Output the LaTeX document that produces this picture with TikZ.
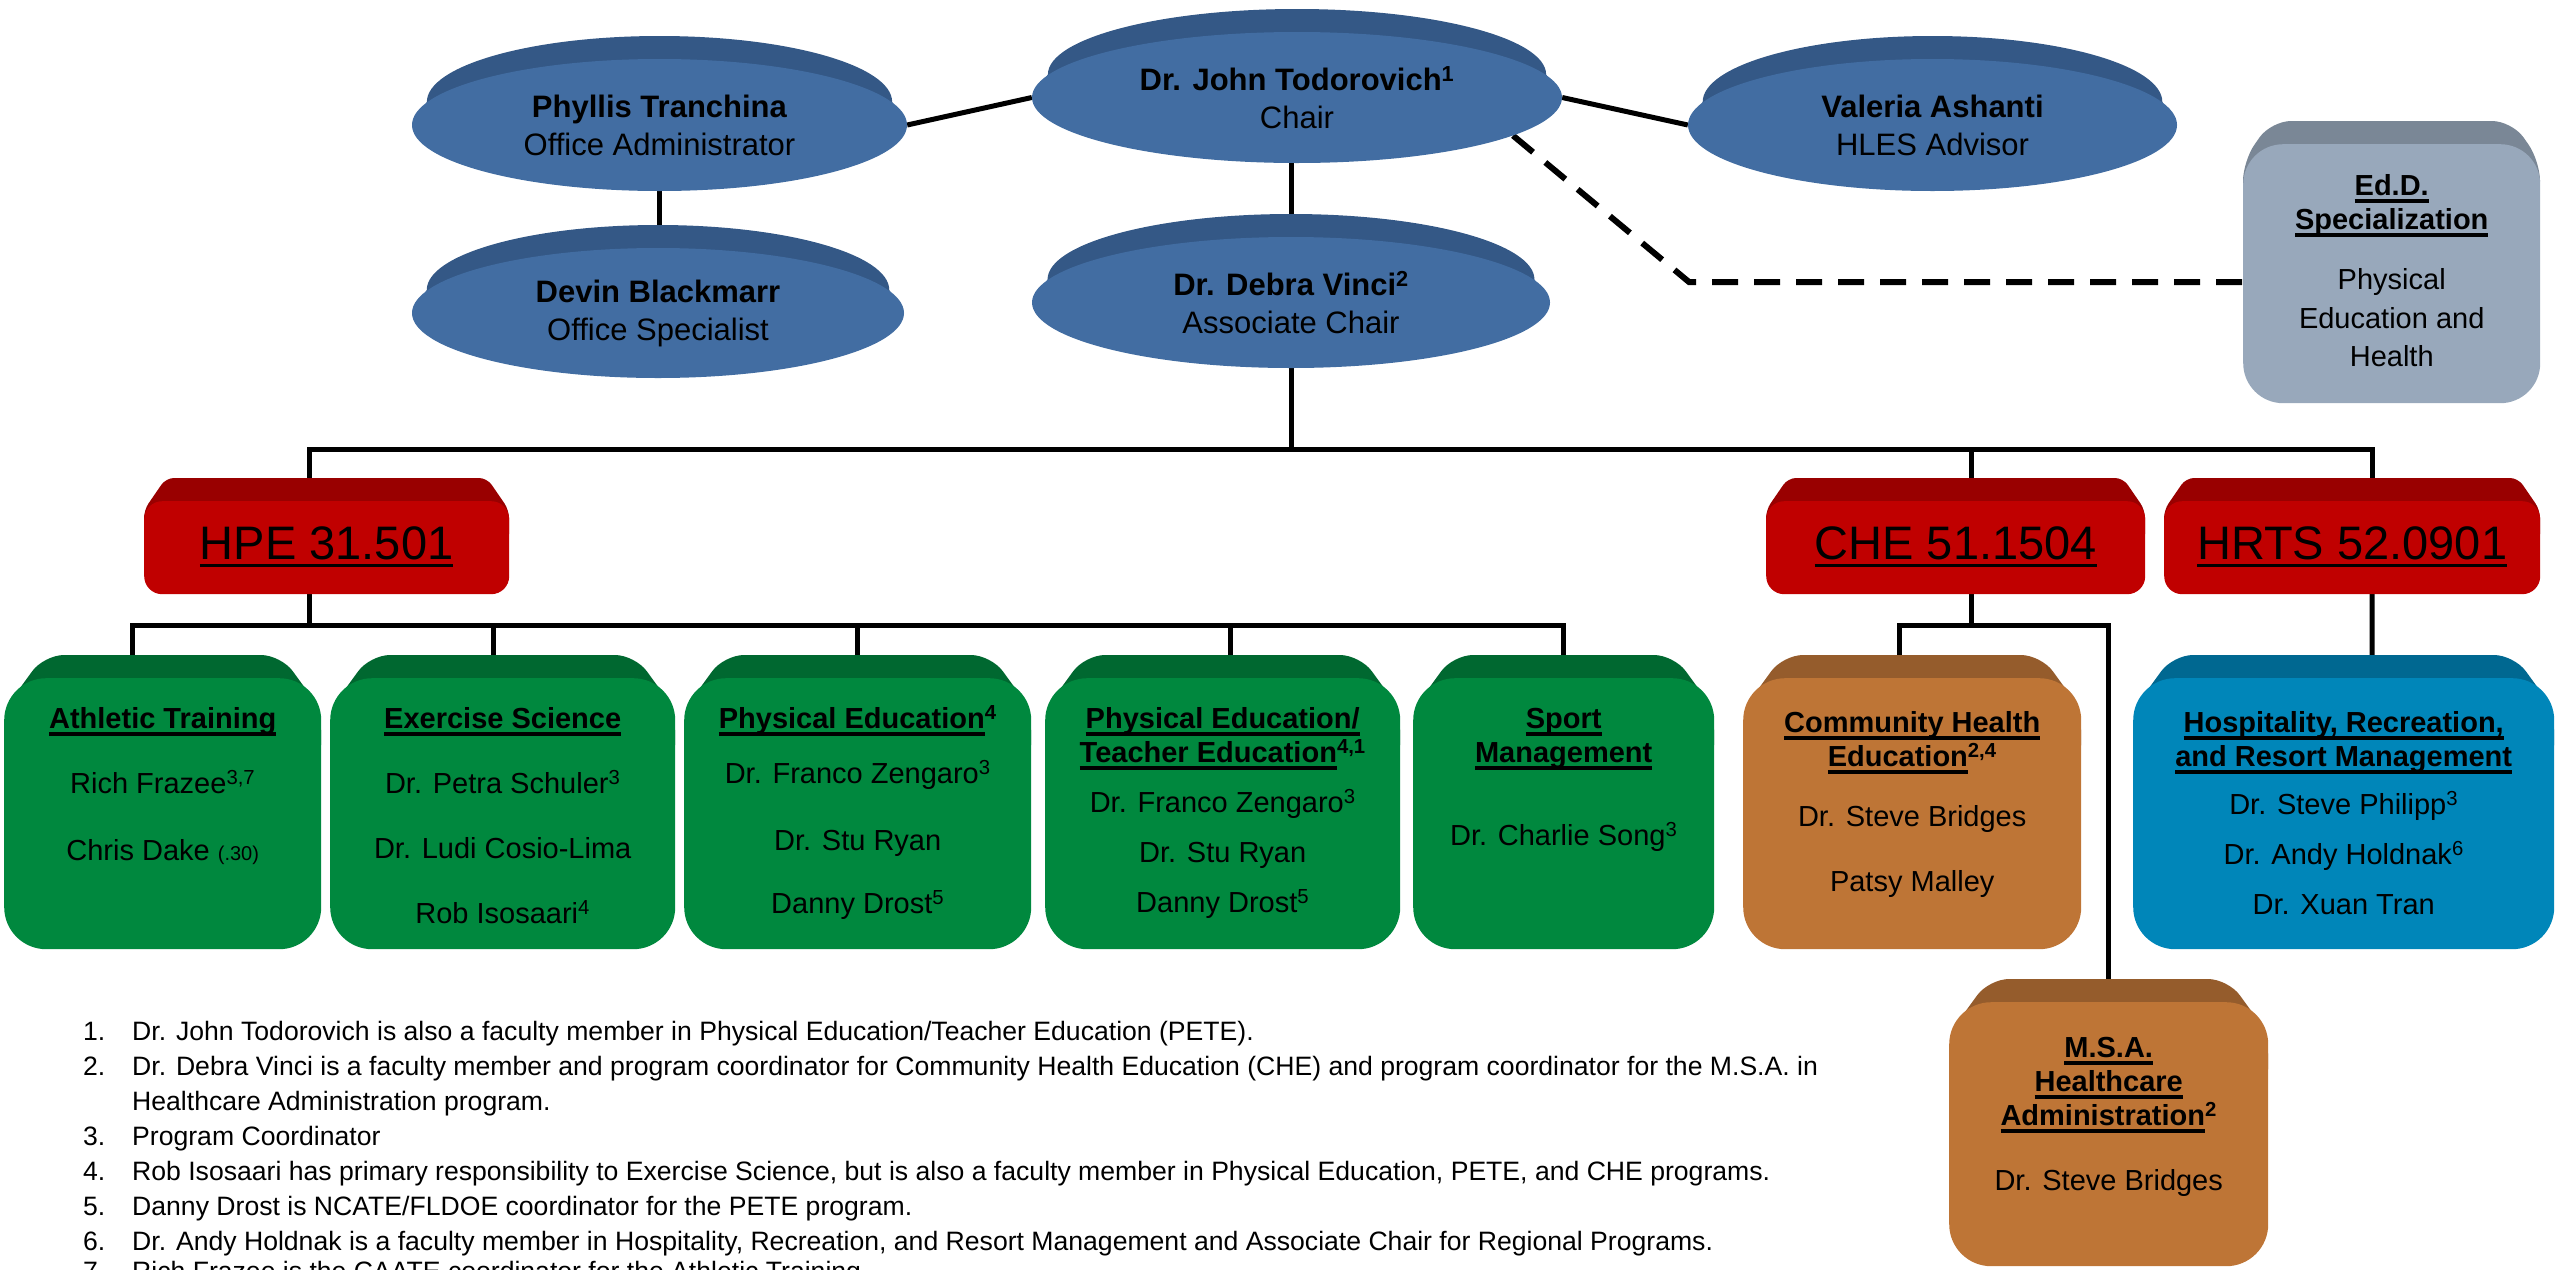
\documentclass[tikz,border=0pt]{standalone}
\usepackage{fontspec}
\setmainfont{Liberation Sans}
\usetikzlibrary{shapes.geometric,backgrounds}

\definecolor{discface}{RGB}{66,109,162}
\definecolor{disclid}{RGB}{52,88,134}
\definecolor{redface}{RGB}{192,0,0}
\definecolor{redlid}{RGB}{153,0,0}
\definecolor{grnface}{RGB}{0,136,62}
\definecolor{grnlid}{RGB}{0,104,48}
\definecolor{brnface}{RGB}{190,117,54}
\definecolor{brnlid}{RGB}{149,92,44}
\definecolor{bluface}{RGB}{0,134,185}
\definecolor{blulid}{RGB}{0,104,145}
\definecolor{gryface}{RGB}{152,168,187}
\definecolor{grylid}{RGB}{122,135,150}

\newsavebox{\ulbox}
\newcommand{\uln}[1]{\sbox{\ulbox}{#1}\rlap{\rule[-7.5pt]{\wd\ulbox}{3.5pt}}\usebox{\ulbox}}
\newcommand{\discfont}{\fontsize{31}{38}\selectfont}
\newcommand{\boxfont}{\fontsize{29}{34}\selectfont}
\newcommand{\codefont}{\fontsize{47}{56}\selectfont}
\newcommand{\notefont}{\fontsize{26.6}{35}\selectfont}
\newcommand{\ttl}[1]{\textbf{\uln{#1}}}
\newcommand{\topstrut}{\rule{0pt}{28pt}}

\tikzset{
	link/.style={line width=5pt},
	dlink/.style={line width=6pt, dash pattern=on 26pt off 16pt},
	disc/.style={ellipse, fill=discface, inner sep=0pt, align=center, font=\discfont},
	face/.style={rectangle, rounded corners=42pt, inner sep=0pt},
	boxtext/.style={anchor=north, align=center, inner sep=0pt, font=\boxfont},
	codetext/.style={anchor=base, inner sep=0pt, font=\codefont},
	notes/.style={anchor=base west, inner sep=0pt, font=\notefont}
}

% disc: name, cx, cy, rx, ry, text
\newcommand{\discnode}[6]{%
	\fill[disclid] ({#2-#4},-#3) -- ({#2-0.94*#4},{-#3+23})
	arc[start angle=180, end angle=0, x radius={0.94*#4}, y radius=#5] -- ({#2+#4},-#3) -- cycle;
	\node[disc, minimum width={2*#4}, minimum height={2*#5}] (#1) at (#2,-#3) {#6};
}

% box: [face opts] name, x0, x1, top, bottom, lid colour, face colour
\newcommand{\progbox}[8][]{%
	\fill[#7, rounded corners=\lidr] (#3,{-#5-2*\lidd}) -- (#3,{-#5-\lidd})
	-- ({#3+\lidin},-#5) -- ({#4-\lidin},-#5) -- (#4,{-#5-\lidd}) -- (#4,{-#5-2*\lidd}) -- cycle;
	\node[face, fill=#8, minimum width={#4-#3}, minimum height={#6-#5-23}, anchor=north west, #1] (#2) at (#3,{-#5-23}) {};
}

\begin{document}
\begin{tikzpicture}[x=1pt,y=1pt]

\useasboundingbox (0,0) rectangle (2564,-1269);

% office
\discnode{phyllis}{659.5}{125}{247.5}{66}{\textbf{Phyllis Tranchina}\\Office Administrator}
\discnode{devin}{658}{313}{246}{65}{\textbf{Devin Blackmarr}\\Office Specialist}
\discnode{chair}{1297}{97.5}{265}{65.5}{\textbf{Dr. John Todorovich\textsuperscript{1}}\\Chair}
\discnode{debra}{1291}{302.5}{259}{65.5}{\textbf{Dr. Debra Vinci\textsuperscript{2}}\\Associate Chair}
\discnode{valeria}{1932.5}{125}{244.5}{66}{\textbf{Valeria Ashanti}\\HLES Advisor}

% doctoral
\def\lidin{28}
\def\lidd{40}
\def\lidr{20pt}
\progbox[rounded corners=40pt]{edd}{2243}{2540}{121}{403}{grylid}{gryface}
\node[boxtext] (eddt) at (edd.center |- 0,-167) {\topstrut\ttl{Ed.D.}\\\ttl{Specialization}\\[26pt]Physical\\[5pt]Education and\\[4pt]Health};

% degree codes
\def\lidin{22}
\def\lidd{32}
\def\lidr{8pt}
\progbox[rounded corners=18pt]{hpe}{144}{509}{478}{594}{redlid}{redface}
\progbox[rounded corners=18pt]{che}{1766}{2145}{478}{594}{redlid}{redface}
\progbox[rounded corners=18pt]{hrts}{2164}{2540}{478}{594}{redlid}{redface}
\node[codetext] (hpet) at ([yshift=-12pt]hpe.center) {\uln{HPE 31.501}};
\node[codetext] (chet) at ([yshift=-12pt]che.center) {\uln{CHE 51.1504}};
\node[codetext] (hrtst) at ([yshift=-12pt]hrts.center) {\uln{HRTS 52.0901}};

% programs
\def\lidin{40}
\def\lidd{55}
\def\lidr{20pt}
\progbox{ath}{4}{321}{655}{949}{grnlid}{grnface}
\progbox{exs}{330}{675}{655}{949}{grnlid}{grnface}
\progbox{pe}{684}{1031}{655}{949}{grnlid}{grnface}
\progbox{pete}{1045}{1400}{655}{949}{grnlid}{grnface}
\progbox{spm}{1413}{1714}{655}{949}{grnlid}{grnface}
\progbox{chep}{1743}{2081}{655}{949}{brnlid}{brnface}
\progbox{hrtsp}{2133}{2554}{655}{949}{blulid}{bluface}
\progbox{msa}{1949}{2268}{979}{1266}{brnlid}{brnface}

\node[boxtext] (atht) at (ath.center |- 0,-700) {\topstrut\ttl{Athletic Training}\\[31pt]Rich Frazee\textsuperscript{3,7}\\[33pt]Chris Dake {\fontsize{20}{24}\selectfont(.30)}};
\node[boxtext] (exst) at (exs.center |- 0,-700) {\topstrut\ttl{Exercise Science}\\[31pt]Dr. Petra Schuler\textsuperscript{3}\\[31pt]Dr. Ludi Cosio-Lima\\[31pt]Rob Isosaari\textsuperscript{4}};
\node[boxtext] (pet) at (pe.center |- 0,-700) {\topstrut\ttl{Physical Education}\textbf{\textsuperscript{4}}\\[21pt]Dr. Franco Zengaro\textsuperscript{3}\\[33pt]Dr. Stu Ryan\\[29pt]Danny Drost\textsuperscript{5}};
\node[boxtext] (petet) at (pete.center |- 0,-700) {\topstrut\ttl{Physical Education/}\\\ttl{Teacher Education}\textbf{\textsuperscript{4,1}}\\[16pt]Dr. Franco Zengaro\textsuperscript{3}\\[16pt]Dr. Stu Ryan\\[16pt]Danny Drost\textsuperscript{5}};
\node[boxtext] (spmt) at (spm.center |- 0,-700) {\topstrut\ttl{Sport}\\\ttl{Management}\\[49pt]Dr. Charlie Song\textsuperscript{3}};
\node[boxtext] (chept) at (chep.center |- 0,-704) {\topstrut\ttl{Community Health}\\\ttl{Education}\textbf{\textsuperscript{2,4}}\\[26pt]Dr. Steve Bridges\\[31pt]Patsy Malley};
\node[boxtext] (hrtspt) at (hrtsp.center |- 0,-704) {\topstrut\ttl{Hospitality, Recreation,}\\\ttl{and Resort Management}\\[14pt]Dr. Steve Philipp\textsuperscript{3}\\[16pt]Dr. Andy Holdnak\textsuperscript{6}\\[16pt]Dr. Xuan Tran};
\node[boxtext] (msat) at (msa.center |- 0,-1029) {\topstrut\ttl{M.S.A.}\\\ttl{Healthcare}\\\ttl{Administration}\textbf{\textsuperscript{2}}\\[31pt]Dr. Steve Bridges};

% footnotes
\node[notes] (notes) at (83,-1040) {\begin{tabular}[t]{@{}p{49pt}@{}l@{}}
1. & Dr. John Todorovich is also a faculty member in Physical Education/Teacher Education (PETE).\\
2. & Dr. Debra Vinci is a faculty member and program coordinator for Community Health Education (CHE) and program coordinator for the M.S.A. in\\
 & Healthcare Administration program.\\
3. & Program Coordinator\\
4. & Rob Isosaari has primary responsibility to Exercise Science, but is also a faculty member in Physical Education, PETE, and CHE programs.\\
5. & Danny Drost is NCATE/FLDOE coordinator for the PETE program.\\
6. & Dr. Andy Holdnak is a faculty member in Hospitality, Recreation, and Resort Management and Associate Chair for Regional Programs.\\[-5pt]
7. & Rich Frazee is the CAATE coordinator for the Athletic Training
\end{tabular}};

\coordinate (bus1) at (0,-449);
\coordinate (bus2) at (0,-625);
\coordinate (edbend) at (1689,-282);

\begin{scope}[on background layer]
	% top
	\draw[link] (phyllis.east) -- (chair.west);
	\draw[link] (chair.east) -- (valeria.west);
	\draw[link] (phyllis) -- (phyllis |- devin);
	\draw[link] (debra) -- (debra |- chair);
	\draw[dlink] (chair.-10) -- (edbend) -- (edbend -| edd.west);

	% codes
	\draw[link] (debra) -- (debra |- bus1);
	\draw[link] ([xshift=-17pt]hpe.center) |- ([xshift=20pt]hrts.center |- bus1) -- ([xshift=20pt]hrts.center);
	\draw[link] ([xshift=16pt]che.center) -- ([xshift=16pt]che.center |- bus1);

	% programs
	\draw[link] ([xshift=-17pt]hpe.center) -- ([xshift=-17pt]hpe.center |- bus2);
	\draw[link] ([xshift=-30pt]ath.center) |- (spm |- bus2) -- (spm);
	\draw[link] ([xshift=-9pt]exs.center) -- ([xshift=-9pt]exs.center |- bus2);
	\draw[link] (pe) -- (pe |- bus2);
	\draw[link] ([xshift=8pt]pete.center) -- ([xshift=8pt]pete.center |- bus2);
	\draw[link] ([xshift=16pt]che.center) -- ([xshift=16pt]che.center |- bus2);
	\draw[link] ([xshift=-13pt]chep.center) |- (msa |- bus2) -- (msa);
	\draw[link] ([xshift=20pt]hrts.center) -- ([xshift=28pt]hrtsp.center);
\end{scope}

\end{tikzpicture}
\end{document}
